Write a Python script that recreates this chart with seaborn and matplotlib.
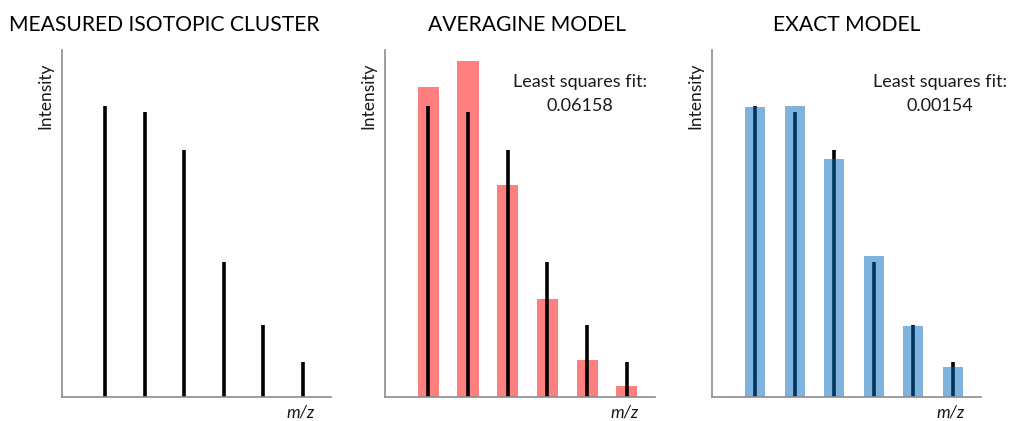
import numpy as np
import pandas as pd
import matplotlib
matplotlib.use("Agg")
import matplotlib.pyplot as plt
import seaborn as sns

# picos do cluster isotopico (intensidade relativa, unidades arbitrarias)
peaks = [0, 1, 2, 3, 4, 5]
measured = [291, 285, 247, 135, 72, 35]
averagine = [310, 336, 212, 98, 37, 11]
exact = [290, 291, 238, 141, 71, 30]

titles = ["MEASURED ISOTOPIC CLUSTER", "AVERAGINE MODEL", "EXACT MODEL"]
fits = [None, "0.06158", "0.00154"]

sns.set_style("white")
plt.rcParams["font.family"] = ["Lato", "DejaVu Sans"]

fig = plt.figure(figsize=(10.13, 4.21), dpi=100)

W, H = 1013, 421
# caixas dos eixos em pixeis: (esquerda, direita)
boxes = [(62, 331), (385, 655), (712, 981)]
title_x = [164, 527, 847]
top_px, base_px = 50, 397

df_meas = pd.DataFrame({"pico": peaks, "intensidade": measured})
df_avg = pd.DataFrame({"pico": peaks, "intensidade": averagine})
df_exact = pd.DataFrame({"pico": peaks, "intensidade": exact})

for i, (l, r) in enumerate(boxes):
    ax = fig.add_axes([l / W, (H - base_px) / H, (r - l) / W, (base_px - top_px) / H])

    if i == 1:
        sns.barplot(data=df_avg, x="pico", y="intensidade", native_scale=True,
                    color="#FF7F7F", saturation=1, width=0.53, linewidth=0,
                    ax=ax, zorder=1)
        ax.vlines(df_meas["pico"], 0, df_meas["intensidade"], color="black", lw=2.6, zorder=2)
    elif i == 2:
        ax.vlines(df_meas["pico"], 0, df_meas["intensidade"], color="black", lw=2.6, zorder=1)
        sns.barplot(data=df_exact, x="pico", y="intensidade", native_scale=True,
                    color="#0069BE", saturation=1, alpha=0.5, width=0.51, linewidth=0,
                    ax=ax)
        for p in ax.patches:
            p.set_zorder(2)
    else:
        ax.vlines(df_meas["pico"], 0, df_meas["intensidade"], color="black", lw=2.6)

    ax.set_xlim(-1.09, 5.71)
    ax.set_ylim(0, base_px - top_px)
    ax.set_xticks([])
    ax.set_yticks([])
    ax.set_xlabel("")
    ax.set_ylabel("")
    for s in ["top", "right"]:
        ax.spines[s].set_visible(False)
    for s in ["left", "bottom"]:
        ax.spines[s].set_color("#8c8c8c")
        ax.spines[s].set_linewidth(1.2)

    ax.text(-17 / (r - l), 0.867, "Intensity", transform=ax.transAxes, rotation=90,
            ha="center", va="center", fontsize=12.5, color="#1a1a1a")
    ax.text(0.888, -0.046, "m/z", transform=ax.transAxes, ha="center", va="center",
            fontsize=12.5, style="italic", color="#1a1a1a")

    if fits[i] is not None:
        cx = [0, 3.81, 4.67][i]
        ax.text(cx, base_px - 82, "Least squares fit:", ha="center", va="center",
                fontsize=13, color="#1a1a1a")
        ax.text(cx, base_px - 106, fits[i], ha="center", va="center",
                fontsize=13, color="#1a1a1a")

    fig.text(title_x[i] / W, 1 - 25 / H, titles[i], ha="center", va="center",
             fontsize=15.2, color="black")

fig.savefig("out.png", dpi=100)
